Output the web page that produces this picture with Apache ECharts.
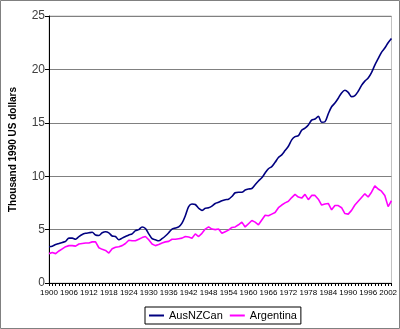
<!DOCTYPE html>
<html>
<head>
<meta charset="utf-8">
<script src="https://cdn.jsdelivr.net/npm/echarts@6/dist/echarts.min.js"></script>
<style>
html,body{margin:0;padding:0;background:#fff;}
#c{width:400px;height:329px;}
</style>
</head>
<body>
<div id="c"></div>
<script>
var years = [
'1900','1901','1902','1903','1904','1905','1906','1907','1908','1909',
'1910','1911','1912','1913','1914','1915','1916','1917','1918','1919',
'1920','1921','1922','1923','1924','1925','1926','1927','1928','1929',
'1930','1931','1932','1933','1934','1935','1936','1937','1938','1939',
'1940','1941','1942','1943','1944','1945','1946','1947','1948','1949',
'1950','1951','1952','1953','1954','1955','1956','1957','1958','1959',
'1960','1961','1962','1963','1964','1965','1966','1967','1968','1969',
'1970','1971','1972','1973','1974','1975','1976','1977','1978','1979',
'1980','1981','1982','1983','1984','1985','1986','1987','1988','1989',
'1990','1991','1992','1993','1994','1995','1996','1997','1998','1999',
'2000','2001','2002','2003'];

var ausNZCan = [
3.40,3.45,3.60,3.70,3.80,3.90,4.20,4.20,4.10,4.35,
4.55,4.65,4.70,4.75,4.50,4.45,4.70,4.80,4.70,4.40,
4.35,4.05,4.20,4.35,4.50,4.60,4.90,5.00,5.25,5.10,
4.60,4.15,4.05,3.95,4.15,4.40,4.70,5.05,5.15,5.25,
5.60,6.30,7.15,7.40,7.35,7.00,6.80,7.00,7.05,7.20,
7.45,7.55,7.70,7.80,7.85,8.10,8.45,8.50,8.50,8.70,
8.80,8.85,9.20,9.55,9.85,10.30,10.70,10.90,11.30,11.75,
12.00,12.40,12.80,13.40,13.70,13.80,14.30,14.50,14.80,15.25,
15.35,15.60,15.05,15.10,15.85,16.50,16.85,17.30,17.80,18.05,
17.85,17.45,17.55,17.95,18.50,18.90,19.20,19.70,20.40,21.00,
21.60,22.00,22.50,22.90];

var argentina = [
2.75,2.85,2.75,3.00,3.20,3.40,3.50,3.50,3.45,3.65,
3.70,3.75,3.75,3.85,3.85,3.30,3.15,3.05,2.80,3.20,
3.35,3.40,3.50,3.70,4.00,3.95,3.95,4.10,4.25,4.35,
4.05,3.65,3.50,3.60,3.75,3.85,3.90,4.10,4.10,4.15,
4.20,4.35,4.30,4.20,4.60,4.35,4.65,5.05,5.25,5.05,
5.00,5.05,4.65,4.80,4.95,5.20,5.25,5.45,5.70,5.25,
5.55,5.85,5.70,5.45,5.90,6.35,6.30,6.45,6.60,7.05,
7.30,7.50,7.65,8.00,8.30,8.05,7.95,8.30,7.80,8.20,
8.20,7.85,7.30,7.40,7.45,6.85,7.25,7.25,7.05,6.50,
6.45,6.80,7.30,7.65,8.00,8.35,8.05,8.50,9.10,8.80,
8.60,8.20,7.15,7.70];

var yTicks = [0,5,10,15,20,25];

var FONT = 'Arial, "Liberation Sans", sans-serif';
var chart = echarts.init(document.getElementById('c'), null, {renderer:'canvas'});
chart.setOption({
  animation:false,
  backgroundColor:'#fff',
  textStyle:{fontFamily:FONT},
  graphic:[{type:'rect',shape:{x:0.5,y:0.5,width:399,height:328},style:{fill:'none',stroke:'#808080',lineWidth:1},silent:true}],
  grid:{left:46,right:7,top:16,bottom:46,show:true,borderColor:'#c0c0c0',borderWidth:1},
  legend:{
    left:145, top:307,
    data:['AusNZCan','Argentina'],
    icon:'rect', itemWidth:15, itemHeight:2, itemGap:7,
    borderColor:'#000', borderWidth:1, padding:[3,4,3,4],
    textStyle:{fontFamily:FONT,fontSize:11,color:'#000'}
  },
  xAxis:{
    type:'category', data:years, boundaryGap:false,
    axisLine:{lineStyle:{color:'#000',width:1}},
    axisTick:{show:true,interval:0,length:3,lineStyle:{color:'#000'}},
    axisLabel:{interval:5,fontSize:8,color:'#000',fontFamily:FONT,margin:6},
    splitLine:{show:false}
  },
  yAxis:{
    type:'value', min:yTicks[0], max:yTicks[yTicks.length-1], interval:5,
    name:'Thousand 1990 US dollars', nameLocation:'middle', nameGap:31,
    nameTextStyle:{fontFamily:FONT,fontSize:10,fontWeight:'bold',color:'#000'},
    axisLine:{show:true,lineStyle:{color:'#000',width:1}},
    axisTick:{show:true,length:4,lineStyle:{color:'#000'}},
    axisLabel:{fontSize:12,color:'#404040',fontFamily:FONT,margin:4},
    splitLine:{show:true,lineStyle:{color:'#808080',width:1}}
  },
  series:[
    {name:'AusNZCan',type:'line',data:ausNZCan,showSymbol:false,smooth:0.3,
     lineStyle:{color:'#000080',width:1.6},itemStyle:{color:'#000080'}},
    {name:'Argentina',type:'line',data:argentina,showSymbol:false,smooth:false,
     lineStyle:{color:'#ff00ff',width:1.6},itemStyle:{color:'#ff00ff'}}
  ]
});
</script>
</body>
</html>
